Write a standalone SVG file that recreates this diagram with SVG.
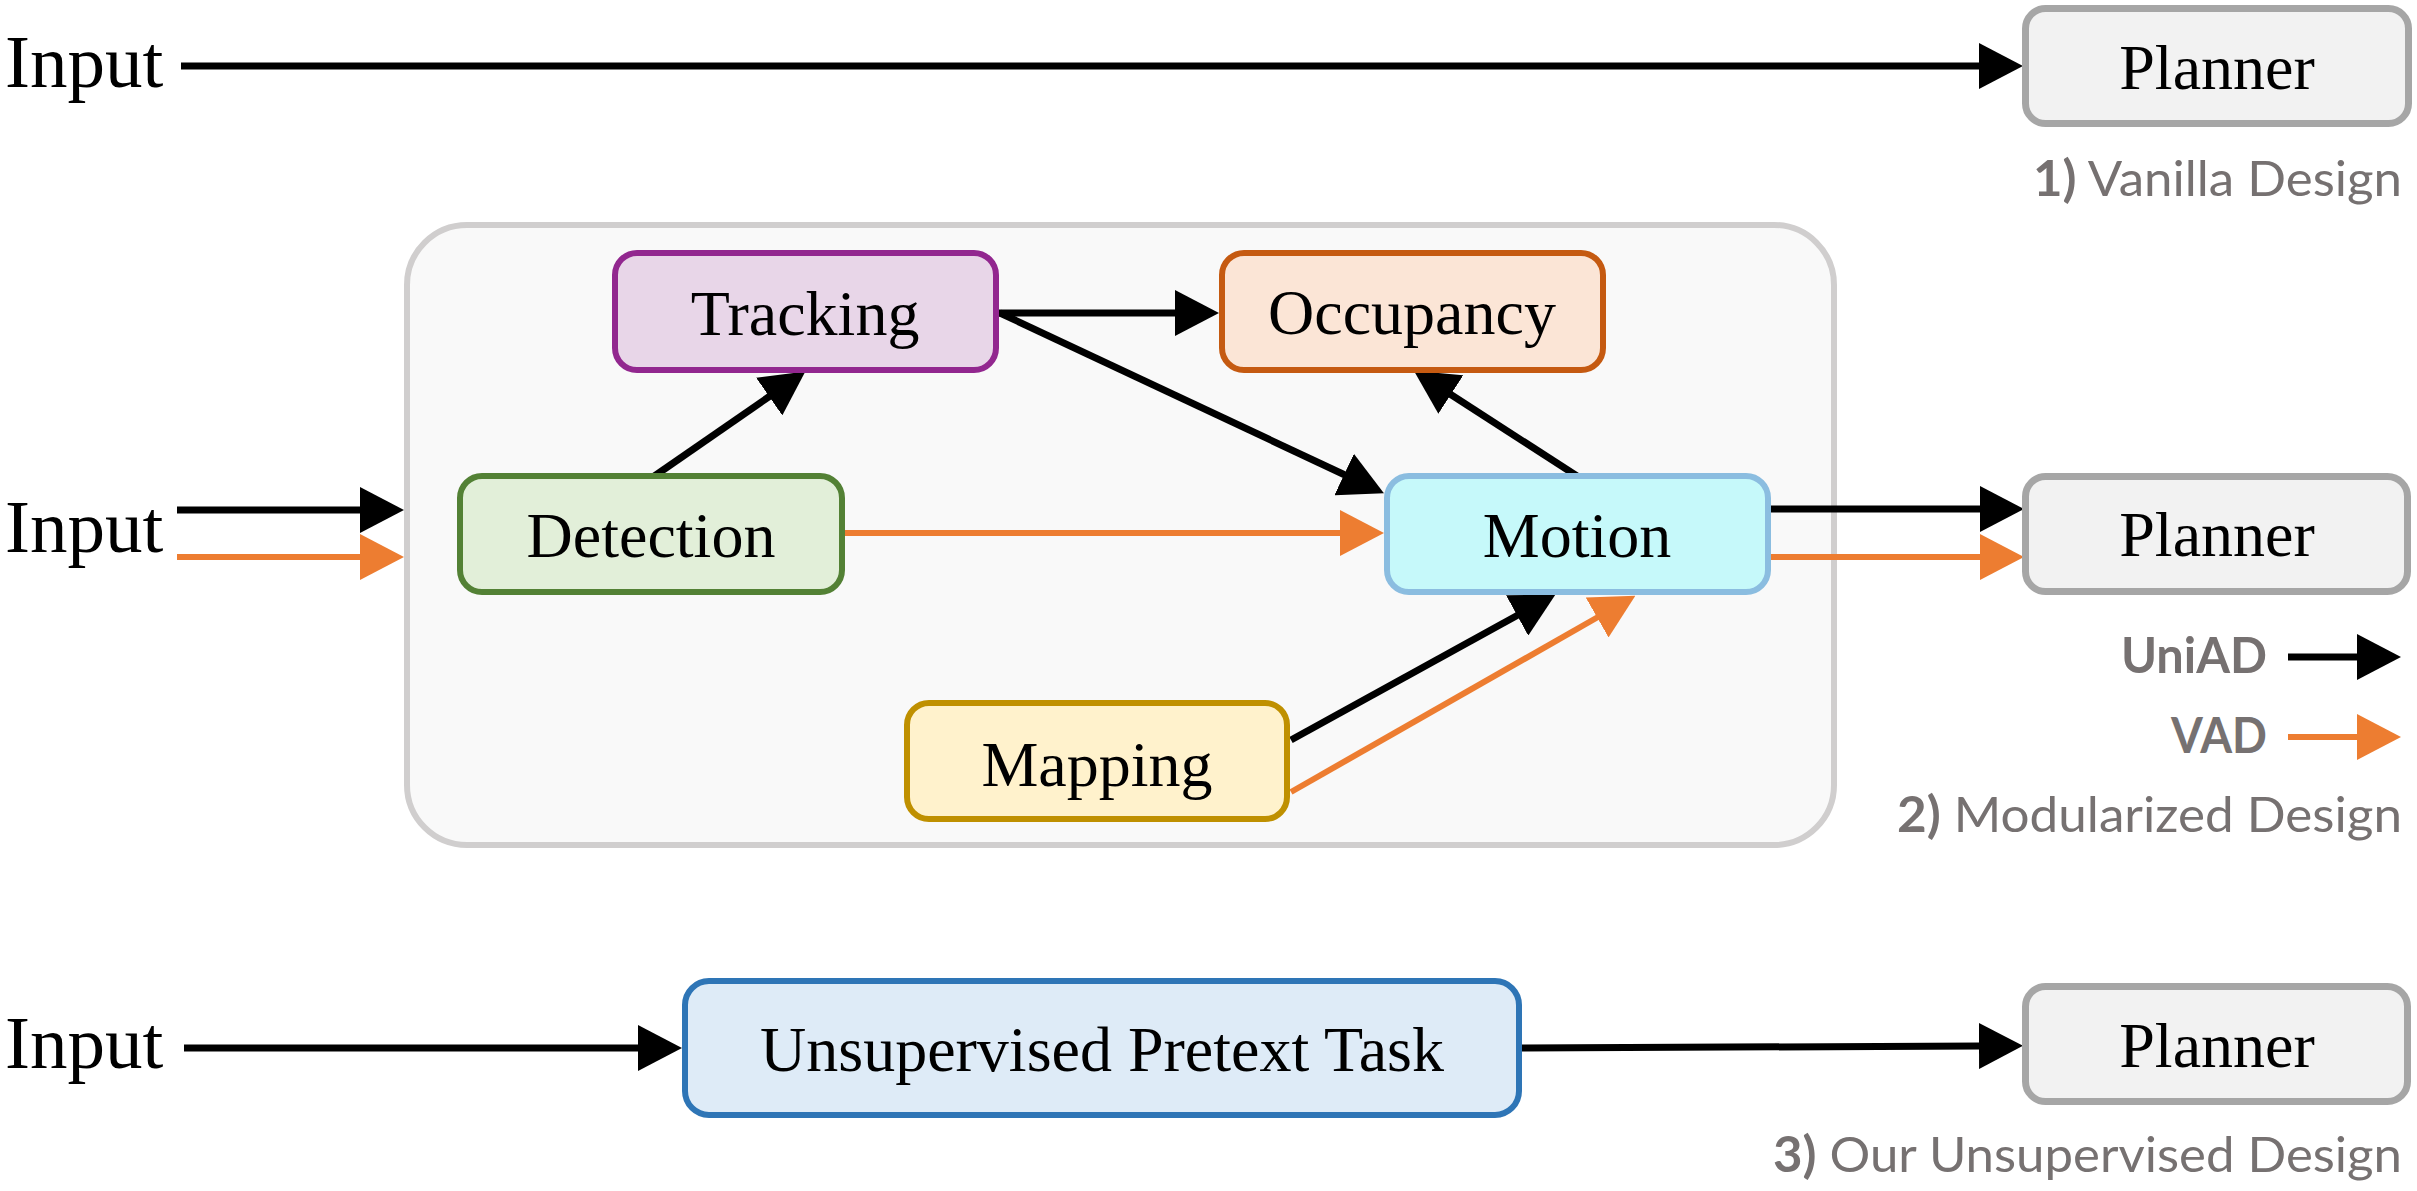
<svg xmlns="http://www.w3.org/2000/svg" width="2417" height="1191" viewBox="0 0 2417 1191">
<defs>
<style>
.lbl{font-family:"Liberation Serif","Times New Roman",serif;font-size:64px;fill:#000;text-anchor:middle}
.inp{font-family:"Liberation Serif","Times New Roman",serif;font-size:75px;fill:#000}
.cap{font-family:Lato,"Open Sans",sans-serif;font-size:49px;fill:#767171;text-anchor:end}
.b{font-weight:bold}
.box{stroke-width:6}
.planner{fill:#f2f2f2;stroke:#a6a6a6;stroke-width:7}
.k{stroke:#000;stroke-width:7;fill:none}
.o{stroke:#ed7d31;stroke-width:6;fill:none}
.k.a{marker-end:url(#ak)}
.o.a{marker-end:url(#ao)}
</style>
<marker id="ak" viewBox="0 0 44 46" markerWidth="44" markerHeight="46" markerUnits="userSpaceOnUse" refX="1" refY="23" orient="auto">
<path d="M0,0 L44,23 L0,46 z" fill="#000"/>
</marker>
<marker id="ao" viewBox="0 0 44 46" markerWidth="44" markerHeight="46" markerUnits="userSpaceOnUse" refX="1" refY="23" orient="auto">
<path d="M0,0 L44,23 L0,46 z" fill="#ed7d31"/>
</marker>
</defs>
<rect width="2417" height="1191" fill="#fff"/>

<g id="group-modular">
<rect x="407" y="225" width="1427" height="620" rx="60" fill="#f9f9f9" stroke="#d0cece" stroke-width="6"/>
</g>

<g id="inputs">
<text class="inp" x="5" y="87">Input</text>
<text class="inp" x="5" y="552">Input</text>
<text class="inp" x="5" y="1068">Input</text>
</g>

<g id="connectors">
<line class="k a" x1="181" y1="66" x2="1980" y2="66"/>
<line class="k a" x1="177" y1="510" x2="361" y2="510"/>
<line class="o a" x1="177" y1="557" x2="361" y2="557"/>
<line class="k a" x1="653" y1="477" x2="770" y2="396"/>
<line class="k a" x1="999" y1="313" x2="1176" y2="313"/>
<line class="k a" x1="1000" y1="313" x2="1345" y2="475"/>
<line class="k a" x1="1577" y1="476" x2="1450" y2="394"/>
<line class="o a" x1="845" y1="533" x2="1341" y2="533"/>
<line class="k a" x1="1291" y1="740" x2="1518" y2="615"/>
<line class="o a" x1="1291" y1="792" x2="1598" y2="617"/>
<line class="k a" x1="1771" y1="509" x2="1981" y2="509"/>
<line class="o a" x1="1771" y1="557" x2="1981" y2="557"/>
<line class="k a" x1="184" y1="1048" x2="639" y2="1048"/>
<line class="k a" x1="1522" y1="1048" x2="1980" y2="1046"/>
</g>

<g id="tracking">
<rect class="box" x="615" y="253" width="381" height="117" rx="22" fill="#e8d6e8" stroke="#92278f"/>
<text class="lbl" x="805" y="335">Tracking</text>
</g>
<g id="occupancy">
<rect class="box" x="1222" y="253" width="381" height="117" rx="22" fill="#fbe5d6" stroke="#c55a11"/>
<text class="lbl" x="1412" y="334">Occupancy</text>
</g>
<g id="detection">
<rect class="box" x="460" y="476" width="382" height="116" rx="22" fill="#e2efd9" stroke="#538135"/>
<text class="lbl" x="651" y="557">Detection</text>
</g>
<g id="motion">
<rect class="box" x="1387" y="476" width="381" height="116" rx="22" fill="#c6f9fa" stroke="#8bbde0"/>
<text class="lbl" x="1577" y="557">Motion</text>
</g>
<g id="mapping">
<rect class="box" x="907" y="703" width="380" height="116" rx="22" fill="#fff2cc" stroke="#bf9000"/>
<text class="lbl" x="1097" y="786">Mapping</text>
</g>
<g id="pretext">
<rect class="box" x="685" y="981" width="834" height="134" rx="24" fill="#deebf7" stroke="#2e75b6"/>
<text class="lbl" x="1102" y="1071">Unsupervised Pretext Task</text>
</g>

<g id="planner1">
<rect class="planner" x="2025.5" y="8.5" width="383" height="115" rx="20"/>
<text class="lbl" x="2217" y="89">Planner</text>
</g>
<g id="planner2">
<rect class="planner" x="2025.5" y="476.5" width="382" height="115" rx="20"/>
<text class="lbl" x="2217" y="556">Planner</text>
</g>
<g id="planner3">
<rect class="planner" x="2025.5" y="986.5" width="382" height="115" rx="20"/>
<text class="lbl" x="2217" y="1067">Planner</text>
</g>

<g id="legend">
<text class="cap b" x="2267" y="673" textLength="146" lengthAdjust="spacingAndGlyphs">UniAD</text>
<line class="k a" x1="2288" y1="657" x2="2358" y2="657"/>
<text class="cap b" x="2267" y="753" textLength="96" lengthAdjust="spacingAndGlyphs">VAD</text>
<line class="o a" x1="2288" y1="737" x2="2358" y2="737"/>
</g>

<g id="captions">
<text class="cap" x="2402" y="196" textLength="369" lengthAdjust="spacingAndGlyphs"><tspan class="b">1)</tspan> Vanilla Design</text>
<text class="cap" x="2402" y="832" textLength="505" lengthAdjust="spacingAndGlyphs"><tspan class="b">2)</tspan> Modularized Design</text>
<text class="cap" x="2402" y="1172" textLength="629" lengthAdjust="spacingAndGlyphs"><tspan class="b">3)</tspan> Our Unsupervised Design</text>
</g>
</svg>
